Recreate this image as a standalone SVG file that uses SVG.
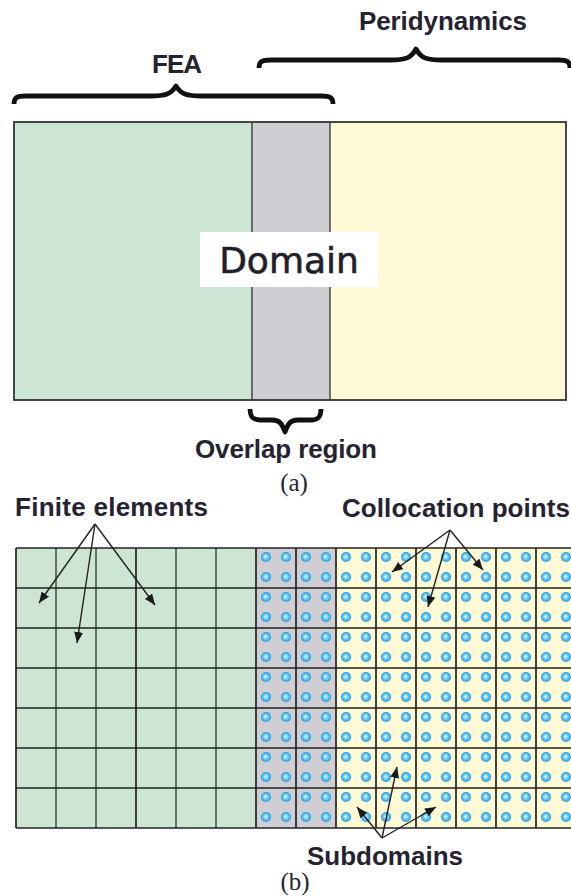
<svg xmlns="http://www.w3.org/2000/svg" width="571" height="896" viewBox="0 0 571 896">
  <style>
    .lbl { font-family: "Liberation Sans", Arial, sans-serif; font-weight: bold; font-size: 26px; fill: #262331; }
    .cap { font-family: "Liberation Serif", "Times New Roman", serif; font-size: 25px; fill: #262331; }
    .brace { fill: none; stroke: #111; stroke-width: 4.8; stroke-linejoin: round; }
    .grid { stroke: #222; stroke-width: 1.7; }
    .gridsoft { stroke: #56665a; stroke-width: 1.8; }
    .arrow { stroke: #222; stroke-width: 1.4; fill: none; marker-end: url(#head); }
  </style>
  <defs>
    <marker id="head" markerUnits="userSpaceOnUse" markerWidth="11" markerHeight="9" refX="11" refY="4.5" orient="auto">
      <path d="M0,0 L11,4.5 L0,9 z" fill="#1a1a1a"/>
    </marker>
    <radialGradient id="ball" cx="0.5" cy="0.5" r="0.5" fx="0.45" fy="0.45">
      <stop offset="0" stop-color="#eefcff"/>
      <stop offset="0.35" stop-color="#8bd8f7"/>
      <stop offset="1" stop-color="#1a9ae2"/>
    </radialGradient>
    <pattern id="points" patternUnits="userSpaceOnUse" x="256" y="547" width="20" height="20">
      <circle cx="10" cy="10" r="5" fill="url(#ball)"/>
    </pattern>
  </defs>

  <!-- (a) domain split into FEA, overlap and peridynamic zones -->
  <g id="panel-a">
    <rect x="14" y="122" width="238" height="278" fill="#cde6d3"/>
    <rect x="252" y="122" width="78" height="278" fill="#cfcfd3"/>
    <rect x="330" y="122" width="236" height="278" fill="#fff9d5"/>
    <line x1="252" y1="122" x2="252" y2="400" stroke="#3a3a3a" stroke-width="1.4"/>
    <line x1="330" y1="122" x2="330" y2="400" stroke="#3a3a3a" stroke-width="1.4"/>
    <rect x="14" y="122" width="552" height="278" fill="none" stroke="#333" stroke-width="1.8"/>
    <g id="domain-label">
      <rect x="200" y="232" width="178" height="55" fill="#ffffff"/>
      <text x="289" y="273" text-anchor="middle" font-family="'DejaVu Sans', Verdana, sans-serif" font-size="36" fill="#221f2b" stroke="#221f2b" stroke-width="0.6">Domain</text>
    </g>
  </g>

  <!-- curly braces -->
  <g id="brace-fea">
    <path class="brace" d="M14,104 C14,98 16,96 26,96 L150,96 C166,96 171,94 176,86 C181,94 186,96 202,96 L321,96 C331,96 333,98 333,104"/>
    <text class="lbl" x="177" y="73" text-anchor="middle" textLength="50" lengthAdjust="spacing">FEA</text>
  </g>
  <g id="brace-peridynamics">
    <path class="brace" d="M259,68 C259,62 261,60 271,60 L390,60 C406,60 411,58 416,49 C421,58 426,60 442,60 L558,60 C568,60 570,62 570,68"/>
    <text class="lbl" x="359" y="30" textLength="168" lengthAdjust="spacing">Peridynamics</text>
  </g>
  <g id="brace-overlap">
    <path class="brace" d="M250,409 C250,416 252,420 260,420 L272,420 C280,420 282,424 285,432 C288,424 290,420 298,420 L311,420 C319,420 321,416 321,409"/>
    <text class="lbl" x="195" y="458" textLength="182" lengthAdjust="spacing">Overlap region</text>
  </g>
  <text id="caption-a" class="cap" x="294" y="491" text-anchor="middle">(a)</text>

  <!-- (b) discretisation: finite elements, overlap and collocation points -->
  <g id="panel-b">
    <rect x="16" y="548" width="240" height="280" fill="#cde6d3"/>
    <rect x="256" y="548" width="80" height="280" fill="#cfcfd3"/>
    <rect x="336" y="548" width="235" height="280" fill="#fff9d5"/>
    <rect id="collocation-points" x="256" y="548" width="315" height="280" fill="url(#points)"/>
    <g id="grid-lines">
      <line class="grid" x1="16" y1="548" x2="16" y2="828"/>
      <line class="gridsoft" x1="56" y1="548" x2="56" y2="828"/>
      <line class="gridsoft" x1="96" y1="548" x2="96" y2="828"/>
      <line class="grid" x1="136" y1="548" x2="136" y2="828"/>
      <line class="gridsoft" x1="176" y1="548" x2="176" y2="828"/>
      <line class="gridsoft" x1="216" y1="548" x2="216" y2="828"/>
      <line class="grid" x1="256" y1="548" x2="256" y2="828"/>
      <line class="grid" x1="296" y1="548" x2="296" y2="828"/>
      <line class="grid" x1="336" y1="548" x2="336" y2="828"/>
      <line class="grid" x1="376" y1="548" x2="376" y2="828"/>
      <line class="grid" x1="416" y1="548" x2="416" y2="828"/>
      <line class="grid" x1="456" y1="548" x2="456" y2="828"/>
      <line class="grid" x1="496" y1="548" x2="496" y2="828"/>
      <line class="grid" x1="536" y1="548" x2="536" y2="828"/>
      <line class="grid" x1="16" y1="548" x2="571" y2="548"/>
      <line class="grid" x1="16" y1="588" x2="571" y2="588"/>
      <line class="grid" x1="16" y1="628" x2="571" y2="628"/>
      <line class="grid" x1="16" y1="668" x2="571" y2="668"/>
      <line class="grid" x1="16" y1="708" x2="571" y2="708"/>
      <line class="grid" x1="16" y1="748" x2="571" y2="748"/>
      <line class="grid" x1="16" y1="788" x2="571" y2="788"/>
      <line class="grid" x1="16" y1="828" x2="571" y2="828"/>
    </g>
  </g>

  <!-- callout labels -->
  <g id="label-finite-elements">
    <text class="lbl" x="15" y="516" textLength="193" lengthAdjust="spacing">Finite elements</text>
  </g>
  <g id="label-collocation-points">
    <text class="lbl" x="342" y="517" textLength="228" lengthAdjust="spacing">Collocation points</text>
  </g>
  <g id="label-subdomains">
    <text class="lbl" x="307" y="865" textLength="156" lengthAdjust="spacing">Subdomains</text>
  </g>
  <text id="caption-b" class="cap" x="295" y="890" text-anchor="middle">(b)</text>

  <!-- leader arrows -->
  <g id="connectors">
    <line class="arrow" x1="95" y1="524" x2="39" y2="603"/>
    <line class="arrow" x1="95" y1="524" x2="77" y2="643"/>
    <line class="arrow" x1="95" y1="524" x2="155" y2="605"/>
    <line class="arrow" x1="450" y1="530" x2="392" y2="572"/>
    <line class="arrow" x1="450" y1="530" x2="428" y2="607"/>
    <line class="arrow" x1="450" y1="530" x2="483" y2="570"/>
    <line class="arrow" x1="382" y1="838" x2="357" y2="807"/>
    <line class="arrow" x1="382" y1="838" x2="397" y2="767"/>
    <line class="arrow" x1="382" y1="838" x2="436" y2="807"/>
  </g>
</svg>
